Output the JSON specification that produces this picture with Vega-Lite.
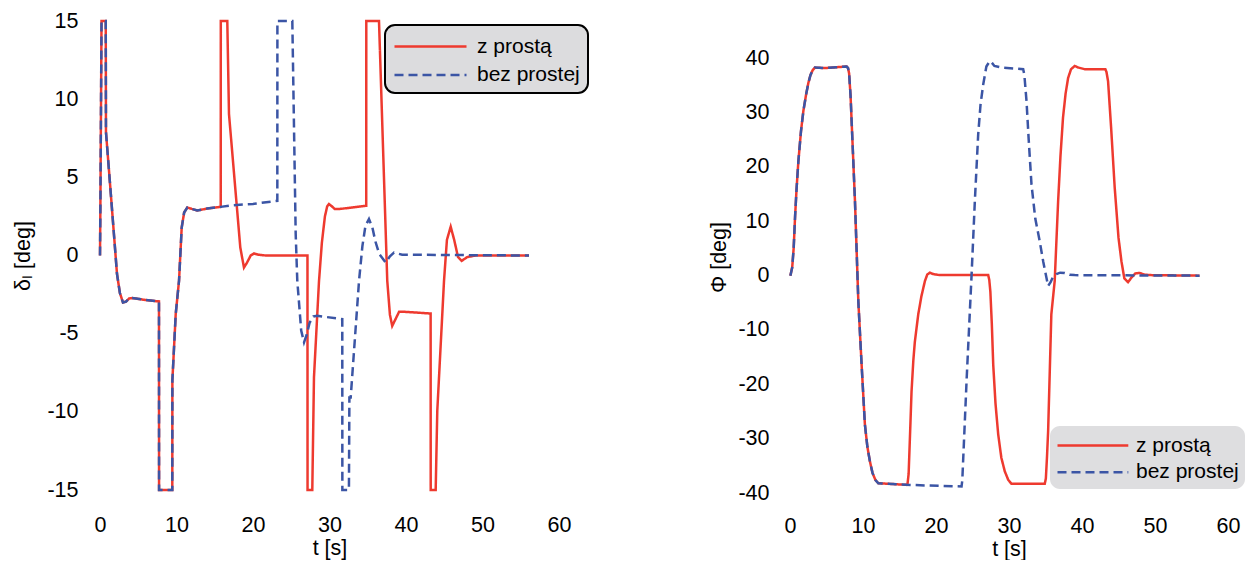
{
  "$schema": "https://vega.github.io/schema/vega-lite/v6.json",
  "padding": {"left": 12, "top": 10, "right": 0, "bottom": 0},
  "background": "white",
  "datasets": {
    "left": [
      {"t": 0, "v": 0, "s": "z prostą"}, {"t": 0.05, "v": 3.1, "s": "z prostą"}, {"t": 0.2, "v": 15, "s": "z prostą"}, {"t": 0.75, "v": 15, "s": "z prostą"}, {"t": 0.78, "v": 7.9, "s": "z prostą"}, {"t": 1.5, "v": 3.4, "s": "z prostą"}, {"t": 2.22, "v": -1.17, "s": "z prostą"}, {"t": 2.6, "v": -2.4, "s": "z prostą"}, {"t": 3.0, "v": -3.0, "s": "z prostą"}, {"t": 3.4, "v": -2.95, "s": "z prostą"}, {"t": 3.8, "v": -2.75, "s": "z prostą"}, {"t": 4.22, "v": -2.72, "s": "z prostą"}, {"t": 6.0, "v": -2.85, "s": "z prostą"}, {"t": 7.71, "v": -2.94, "s": "z prostą"}, {"t": 7.72, "v": -15, "s": "z prostą"}, {"t": 9.45, "v": -15, "s": "z prostą"}, {"t": 9.46, "v": -8.0, "s": "z prostą"}, {"t": 9.9, "v": -3.73, "s": "z prostą"}, {"t": 10.33, "v": -1.62, "s": "z prostą"}, {"t": 10.68, "v": 1.79, "s": "z prostą"}, {"t": 11.0, "v": 2.75, "s": "z prostą"}, {"t": 11.41, "v": 3.07, "s": "z prostą"}, {"t": 12.0, "v": 2.98, "s": "z prostą"}, {"t": 12.72, "v": 2.88, "s": "z prostą"}, {"t": 14.0, "v": 3.0, "s": "z prostą"}, {"t": 15.78, "v": 3.11, "s": "z prostą"},
      {"t": 15.79, "v": 15, "s": "z prostą"}, {"t": 16.64, "v": 15, "s": "z prostą"}, {"t": 16.86, "v": 9.06, "s": "z prostą"}, {"t": 18.34, "v": 0.51, "s": "z prostą"}, {"t": 18.82, "v": -0.77, "s": "z prostą"}, {"t": 19.2, "v": -0.47, "s": "z prostą"}, {"t": 19.7, "v": 0.0, "s": "z prostą"}, {"t": 20.13, "v": 0.13, "s": "z prostą"}, {"t": 20.7, "v": 0.05, "s": "z prostą"}, {"t": 21.66, "v": 0, "s": "z prostą"}, {"t": 27.12, "v": 0, "s": "z prostą"}, {"t": 27.13, "v": -15, "s": "z prostą"}, {"t": 27.75, "v": -15, "s": "z prostą"}, {"t": 27.97, "v": -7.8, "s": "z prostą"}, {"t": 28.63, "v": -1.62, "s": "z prostą"}, {"t": 29.0, "v": 0.8, "s": "z prostą"}, {"t": 29.4, "v": 2.5, "s": "z prostą"}, {"t": 29.7, "v": 3.15, "s": "z prostą"}, {"t": 29.93, "v": 3.29, "s": "z prostą"}, {"t": 30.3, "v": 3.15, "s": "z prostą"}, {"t": 30.7, "v": 2.97, "s": "z prostą"}, {"t": 31.24, "v": 2.97, "s": "z prostą"}, {"t": 34.8, "v": 3.18, "s": "z prostą"}, {"t": 34.81, "v": 15, "s": "z prostą"}, {"t": 36.47, "v": 15, "s": "z prostą"}, {"t": 37.55, "v": -1.62, "s": "z prostą"}, {"t": 37.9, "v": -3.8, "s": "z prostą"}, {"t": 38.2, "v": -4.5, "s": "z prostą"}, {"t": 38.6, "v": -4.1, "s": "z prostą"}, {"t": 39.1, "v": -3.6, "s": "z prostą"}, {"t": 39.74, "v": -3.6, "s": "z prostą"}, {"t": 43.22, "v": -3.71, "s": "z prostą"}, {"t": 43.23, "v": -15, "s": "z prostą"}, {"t": 43.88, "v": -15, "s": "z prostą"}, {"t": 44.09, "v": -9.93, "s": "z prostą"}, {"t": 44.97, "v": -1.62, "s": "z prostą"}, {"t": 45.35, "v": 1.0, "s": "z prostą"}, {"t": 45.84, "v": 1.84, "s": "z prostą"}, {"t": 46.3, "v": 1.0, "s": "z prostą"}, {"t": 46.8, "v": -0.1, "s": "z prostą"}, {"t": 47.28, "v": -0.34, "s": "z prostą"}, {"t": 48.0, "v": -0.1, "s": "z prostą"}, {"t": 49.1, "v": 0, "s": "z prostą"}, {"t": 56.08, "v": 0, "s": "z prostą"},
      {"t": 0, "v": 0, "s": "bez prostej"}, {"t": 0.05, "v": 3.1, "s": "bez prostej"}, {"t": 0.2, "v": 15, "s": "bez prostej"}, {"t": 0.75, "v": 15, "s": "bez prostej"}, {"t": 0.78, "v": 7.9, "s": "bez prostej"}, {"t": 1.5, "v": 3.4, "s": "bez prostej"}, {"t": 2.22, "v": -1.17, "s": "bez prostej"}, {"t": 2.6, "v": -2.4, "s": "bez prostej"}, {"t": 3.0, "v": -3.0, "s": "bez prostej"}, {"t": 3.4, "v": -2.95, "s": "bez prostej"}, {"t": 3.8, "v": -2.75, "s": "bez prostej"}, {"t": 4.22, "v": -2.72, "s": "bez prostej"}, {"t": 6.0, "v": -2.85, "s": "bez prostej"}, {"t": 7.71, "v": -2.94, "s": "bez prostej"}, {"t": 7.72, "v": -15, "s": "bez prostej"}, {"t": 9.45, "v": -15, "s": "bez prostej"}, {"t": 9.46, "v": -8.0, "s": "bez prostej"}, {"t": 9.9, "v": -3.73, "s": "bez prostej"}, {"t": 10.33, "v": -1.62, "s": "bez prostej"}, {"t": 10.68, "v": 1.79, "s": "bez prostej"}, {"t": 11.0, "v": 2.75, "s": "bez prostej"}, {"t": 11.41, "v": 3.07, "s": "bez prostej"}, {"t": 12.0, "v": 2.98, "s": "bez prostej"}, {"t": 12.72, "v": 2.88, "s": "bez prostej"}, {"t": 14.0, "v": 3.0, "s": "bez prostej"}, {"t": 15.78, "v": 3.11, "s": "bez prostej"},
      {"t": 17.0, "v": 3.2, "s": "bez prostej"}, {"t": 20.0, "v": 3.3, "s": "bez prostej"}, {"t": 23.18, "v": 3.5, "s": "bez prostej"}, {"t": 23.19, "v": 15, "s": "bez prostej"}, {"t": 25.14, "v": 15, "s": "bez prostej"}, {"t": 25.58, "v": 1.39, "s": "bez prostej"}, {"t": 25.79, "v": -1.62, "s": "bez prostej"}, {"t": 26.3, "v": -4.8, "s": "bez prostej"}, {"t": 26.67, "v": -5.56, "s": "bez prostej"}, {"t": 27.0, "v": -5.1, "s": "bez prostej"}, {"t": 27.4, "v": -4.3, "s": "bez prostej"}, {"t": 27.9, "v": -3.9, "s": "bez prostej"}, {"t": 28.41, "v": -3.86, "s": "bez prostej"}, {"t": 31.67, "v": -4.07, "s": "bez prostej"}, {"t": 31.68, "v": -15, "s": "bez prostej"}, {"t": 32.54, "v": -15, "s": "bez prostej"}, {"t": 32.6, "v": -9.08, "s": "bez prostej"}, {"t": 32.77, "v": -9.08, "s": "bez prostej"}, {"t": 33.86, "v": -1.62, "s": "bez prostej"}, {"t": 34.3, "v": 0.6, "s": "bez prostej"}, {"t": 34.7, "v": 1.9, "s": "bez prostej"}, {"t": 35.16, "v": 2.33, "s": "bez prostej"}, {"t": 35.6, "v": 1.8, "s": "bez prostej"}, {"t": 36.0, "v": 0.9, "s": "bez prostej"}, {"t": 36.5, "v": 0.1, "s": "bez prostej"}, {"t": 37.35, "v": -0.45, "s": "bez prostej"}, {"t": 37.9, "v": -0.05, "s": "bez prostej"}, {"t": 38.43, "v": 0.19, "s": "bez prostej"}, {"t": 39.5, "v": 0.05, "s": "bez prostej"}, {"t": 56.08, "v": 0, "s": "bez prostej"}
    ],
    "right": [
      {"t": 0.05, "v": 0, "s": "z prostą"}, {"t": 0.3, "v": 1.5, "s": "z prostą"}, {"t": 0.5, "v": 5, "s": "z prostą"}, {"t": 0.7, "v": 11, "s": "z prostą"}, {"t": 0.9, "v": 16, "s": "z prostą"}, {"t": 1.15, "v": 21.1, "s": "z prostą"}, {"t": 1.5, "v": 26.5, "s": "z prostą"}, {"t": 1.83, "v": 30.3, "s": "z prostą"}, {"t": 2.2, "v": 33.3, "s": "z prostą"}, {"t": 2.52, "v": 35.5, "s": "z prostą"}, {"t": 2.8, "v": 36.9, "s": "z prostą"}, {"t": 3.1, "v": 37.8, "s": "z prostą"}, {"t": 3.42, "v": 38.3, "s": "z prostą"}, {"t": 4.79, "v": 38.2, "s": "z prostą"}, {"t": 7.76, "v": 38.5, "s": "z prostą"}, {"t": 7.95, "v": 38.2, "s": "z prostą"}, {"t": 8.1, "v": 37.2, "s": "z prostą"}, {"t": 8.3, "v": 33, "s": "z prostą"}, {"t": 8.9, "v": 13.7, "s": "z prostą"}, {"t": 9.36, "v": -4.7, "s": "z prostą"}, {"t": 9.81, "v": -16.4, "s": "z prostą"}, {"t": 10.26, "v": -27.4, "s": "z prostą"}, {"t": 10.6, "v": -31.5, "s": "z prostą"}, {"t": 10.95, "v": -34.2, "s": "z prostą"}, {"t": 11.3, "v": -36.3, "s": "z prostą"}, {"t": 11.7, "v": -37.6, "s": "z prostą"}, {"t": 12.1, "v": -38.2, "s": "z prostą"}, {"t": 15.97, "v": -38.5, "s": "z prostą"},
      {"t": 16.1, "v": -38.3, "s": "z prostą"}, {"t": 16.25, "v": -36.5, "s": "z prostą"}, {"t": 16.45, "v": -29, "s": "z prostą"}, {"t": 16.65, "v": -21.3, "s": "z prostą"}, {"t": 16.9, "v": -15.5, "s": "z prostą"}, {"t": 17.1, "v": -12.2, "s": "z prostą"}, {"t": 17.57, "v": -7.1, "s": "z prostą"}, {"t": 18.0, "v": -3.8, "s": "z prostą"}, {"t": 18.48, "v": -1.0, "s": "z prostą"}, {"t": 18.8, "v": 0.2, "s": "z prostą"}, {"t": 19.16, "v": 0.55, "s": "z prostą"}, {"t": 19.6, "v": 0.3, "s": "z prostą"}, {"t": 20.5, "v": 0.1, "s": "z prostą"}, {"t": 27.15, "v": 0.1, "s": "z prostą"}, {"t": 27.3, "v": -0.8, "s": "z prostą"}, {"t": 27.45, "v": -3, "s": "z prostą"}, {"t": 27.65, "v": -9, "s": "z prostą"}, {"t": 27.84, "v": -16.4, "s": "z prostą"}, {"t": 28.15, "v": -23.5, "s": "z prostą"}, {"t": 28.52, "v": -29.2, "s": "z prostą"}, {"t": 28.95, "v": -33.5, "s": "z prostą"}, {"t": 29.42, "v": -36, "s": "z prostą"}, {"t": 29.9, "v": -37.6, "s": "z prostą"}, {"t": 30.34, "v": -38.3, "s": "z prostą"}, {"t": 34.9, "v": -38.3, "s": "z prostą"}, {"t": 35.05, "v": -37.3, "s": "z prostą"}, {"t": 35.2, "v": -33.5, "s": "z prostą"}, {"t": 35.36, "v": -28.6, "s": "z prostą"}, {"t": 35.8, "v": -7.1, "s": "z prostą"}, {"t": 36.26, "v": -1.0, "s": "z prostą"}, {"t": 36.73, "v": 13.7, "s": "z prostą"}, {"t": 37.05, "v": 22, "s": "z prostą"}, {"t": 37.4, "v": 29.1, "s": "z prostą"}, {"t": 37.75, "v": 33.5, "s": "z prostą"}, {"t": 38.1, "v": 36.4, "s": "z prostą"}, {"t": 38.5, "v": 38, "s": "z prostą"}, {"t": 39.0, "v": 38.6, "s": "z prostą"}, {"t": 39.5, "v": 38.3, "s": "z prostą"}, {"t": 40.37, "v": 38.0, "s": "z prostą"}, {"t": 43.2, "v": 38.0, "s": "z prostą"}, {"t": 43.35, "v": 37.5, "s": "z prostą"}, {"t": 43.57, "v": 35.8, "s": "z prostą"}, {"t": 44.0, "v": 27, "s": "z prostą"}, {"t": 44.48, "v": 16.2, "s": "z prostą"}, {"t": 45.0, "v": 7, "s": "z prostą"}, {"t": 45.4, "v": 2.67, "s": "z prostą"}, {"t": 45.8, "v": -0.5, "s": "z prostą"}, {"t": 46.31, "v": -1.2, "s": "z prostą"}, {"t": 46.8, "v": -0.3, "s": "z prostą"}, {"t": 47.3, "v": 0.4, "s": "z prostą"}, {"t": 47.9, "v": 0.5, "s": "z prostą"}, {"t": 48.5, "v": 0.2, "s": "z prostą"}, {"t": 49.5, "v": 0.1, "s": "z prostą"}, {"t": 56.1, "v": 0, "s": "z prostą"},
      {"t": 0.05, "v": 0, "s": "bez prostej"}, {"t": 0.3, "v": 1.5, "s": "bez prostej"}, {"t": 0.5, "v": 5, "s": "bez prostej"}, {"t": 0.7, "v": 11, "s": "bez prostej"}, {"t": 0.9, "v": 16, "s": "bez prostej"}, {"t": 1.15, "v": 21.1, "s": "bez prostej"}, {"t": 1.5, "v": 26.5, "s": "bez prostej"}, {"t": 1.83, "v": 30.3, "s": "bez prostej"}, {"t": 2.2, "v": 33.3, "s": "bez prostej"}, {"t": 2.52, "v": 35.5, "s": "bez prostej"}, {"t": 2.8, "v": 36.9, "s": "bez prostej"}, {"t": 3.1, "v": 37.8, "s": "bez prostej"}, {"t": 3.42, "v": 38.3, "s": "bez prostej"}, {"t": 4.79, "v": 38.2, "s": "bez prostej"}, {"t": 7.76, "v": 38.5, "s": "bez prostej"}, {"t": 7.95, "v": 38.2, "s": "bez prostej"}, {"t": 8.1, "v": 37.2, "s": "bez prostej"}, {"t": 8.3, "v": 33, "s": "bez prostej"}, {"t": 8.9, "v": 13.7, "s": "bez prostej"}, {"t": 9.36, "v": -4.7, "s": "bez prostej"}, {"t": 9.81, "v": -16.4, "s": "bez prostej"}, {"t": 10.26, "v": -27.4, "s": "bez prostej"}, {"t": 10.6, "v": -31.5, "s": "bez prostej"}, {"t": 10.95, "v": -34.2, "s": "bez prostej"}, {"t": 11.3, "v": -36.3, "s": "bez prostej"}, {"t": 11.7, "v": -37.6, "s": "bez prostej"}, {"t": 12.1, "v": -38.2, "s": "bez prostej"}, {"t": 15.97, "v": -38.5, "s": "bez prostej"},
      {"t": 23.5, "v": -38.8, "s": "bez prostej"}, {"t": 23.6, "v": -37.7, "s": "bez prostej"}, {"t": 24.2, "v": -19, "s": "bez prostej"}, {"t": 24.87, "v": 0, "s": "bez prostej"}, {"t": 25.32, "v": 13.7, "s": "bez prostej"}, {"t": 25.78, "v": 26, "s": "bez prostej"}, {"t": 26.1, "v": 31.5, "s": "bez prostej"}, {"t": 26.47, "v": 35.2, "s": "bez prostej"}, {"t": 26.9, "v": 38.5, "s": "bez prostej"}, {"t": 27.37, "v": 39.5, "s": "bez prostej"}, {"t": 27.7, "v": 39.1, "s": "bez prostej"}, {"t": 28.0, "v": 38.6, "s": "bez prostej"}, {"t": 28.97, "v": 38.3, "s": "bez prostej"}, {"t": 31.94, "v": 38.0, "s": "bez prostej"}, {"t": 32.1, "v": 37, "s": "bez prostej"}, {"t": 32.4, "v": 32.1, "s": "bez prostej"}, {"t": 32.7, "v": 25, "s": "bez prostej"}, {"t": 33.08, "v": 16.8, "s": "bez prostej"}, {"t": 33.6, "v": 10.5, "s": "bez prostej"}, {"t": 34.2, "v": 6.4, "s": "bez prostej"}, {"t": 34.7, "v": 2.5, "s": "bez prostej"}, {"t": 35.0, "v": 0.5, "s": "bez prostej"}, {"t": 35.36, "v": -1.9, "s": "bez prostej"}, {"t": 35.7, "v": -1.2, "s": "bez prostej"}, {"t": 36.0, "v": -0.3, "s": "bez prostej"}, {"t": 36.5, "v": 0.3, "s": "bez prostej"}, {"t": 37.0, "v": 0.55, "s": "bez prostej"}, {"t": 37.63, "v": 0.5, "s": "bez prostej"}, {"t": 38.3, "v": 0.15, "s": "bez prostej"}, {"t": 39.0, "v": 0.1, "s": "bez prostej"}, {"t": 56.1, "v": 0, "s": "bez prostej"}
    ]
  },
  "config": {
    "view": {"stroke": null},
    "axis": {"domain": false, "ticks": false, "grid": false, "labelFlush": false, "labelFont": "Liberation Sans", "labelFontSize": 21.5, "labelColor": "#000000", "titleFont": "Liberation Sans", "titleFontSize": 21.5, "titleFontWeight": "normal", "titleColor": "#000000"},
    "legend": {"labelFont": "Liberation Sans", "labelFontSize": 21, "labelColor": "#000000", "symbolSize": 576, "symbolStrokeWidth": 2.5, "title": null, "orient": "none"}
  },
  "hconcat": [
    {
      "width": 459,
      "height": 469,
      "data": {"name": "left"},
      "encoding": {
        "x": {"field": "t", "type": "quantitative", "scale": {"domain": [0, 60], "nice": false, "zero": false}, "axis": {"values": [0, 10, 20, 30, 40, 50, 60], "title": "t [s]", "labelPadding": 24, "titlePadding": 2}},
        "y": {"field": "v", "type": "quantitative", "scale": {"domain": [-15, 15], "nice": false}, "axis": {"values": [-15, -10, -5, 0, 5, 10, 15], "labelExpr": "'' + datum.value", "title": "δₗ [deg]", "labelPadding": 22, "titlePadding": 12}},
        "color": {"field": "s", "type": "nominal", "scale": {"domain": ["z prostą", "bez prostej"], "range": ["#ee3a2f", "#3b55a5"]}, "legend": {"legendX": 285, "legendY": 4, "fillColor": "#dcdcde", "strokeColor": "#000000", "cornerRadius": 10, "padding": 8, "rowPadding": 4.4, "labelOffset": 57, "symbolType": "M-1,0H5", "encode": {"legend": {"update": {"strokeWidth": {"value": 2}}}}}},
        "strokeDash": {"field": "s", "type": "nominal", "scale": {"domain": ["z prostą", "bez prostej"], "range": [[1, 0], [9, 5]]}, "legend": {"legendX": 285, "legendY": 4, "fillColor": "#dcdcde", "strokeColor": "#000000", "cornerRadius": 10, "padding": 8, "rowPadding": 4.4, "labelOffset": 57, "symbolType": "M-1,0H5", "encode": {"legend": {"update": {"strokeWidth": {"value": 2}}}}}}
      },
      "layer": [
        {"transform": [{"filter": "datum.s === 'z prostą'"}], "mark": {"type": "line", "strokeWidth": 2.5}},
        {"transform": [{"filter": "datum.s === 'bez prostej'"}], "mark": {"type": "line", "strokeWidth": 2.5}}
      ]
    },
    {
      "width": 438,
      "height": 472,
      "data": {"name": "right"},
      "encoding": {
        "x": {"field": "t", "type": "quantitative", "scale": {"domain": [0, 60], "nice": false, "zero": false}, "axis": {"values": [0, 10, 20, 30, 40, 50, 60], "title": "t [s]", "labelPadding": 22, "titlePadding": 2}},
        "y": {"field": "v", "type": "quantitative", "scale": {"domain": [-40, 46.87], "nice": false}, "axis": {"values": [-40, -30, -20, -10, 0, 10, 20, 30, 40], "labelExpr": "'' + datum.value", "title": "Φ [deg]", "labelPadding": 21, "titlePadding": 7}},
        "color": {"field": "s", "type": "nominal", "scale": {"domain": ["z prostą", "bez prostej"], "range": ["#ee3a2f", "#3b55a5"]}, "legend": {"legendX": 260, "legendY": 405, "fillColor": "#dedee0", "cornerRadius": 10, "padding": 6, "rowPadding": 2.7, "labelOffset": 53, "symbolType": "M-1,0H4.9"}},
        "strokeDash": {"field": "s", "type": "nominal", "scale": {"domain": ["z prostą", "bez prostej"], "range": [[1, 0], [9, 5]]}, "legend": {"legendX": 260, "legendY": 405, "fillColor": "#dedee0", "cornerRadius": 10, "padding": 6, "rowPadding": 2.7, "labelOffset": 53, "symbolType": "M-1,0H4.9"}}
      },
      "layer": [
        {"transform": [{"filter": "datum.s === 'z prostą'"}], "mark": {"type": "line", "strokeWidth": 2.5}},
        {"transform": [{"filter": "datum.s === 'bez prostej'"}], "mark": {"type": "line", "strokeWidth": 2.5}}
      ]
    }
  ],
  "spacing": 119,
  "resolve": {"scale": {"color": "independent", "strokeDash": "independent"}}
}
